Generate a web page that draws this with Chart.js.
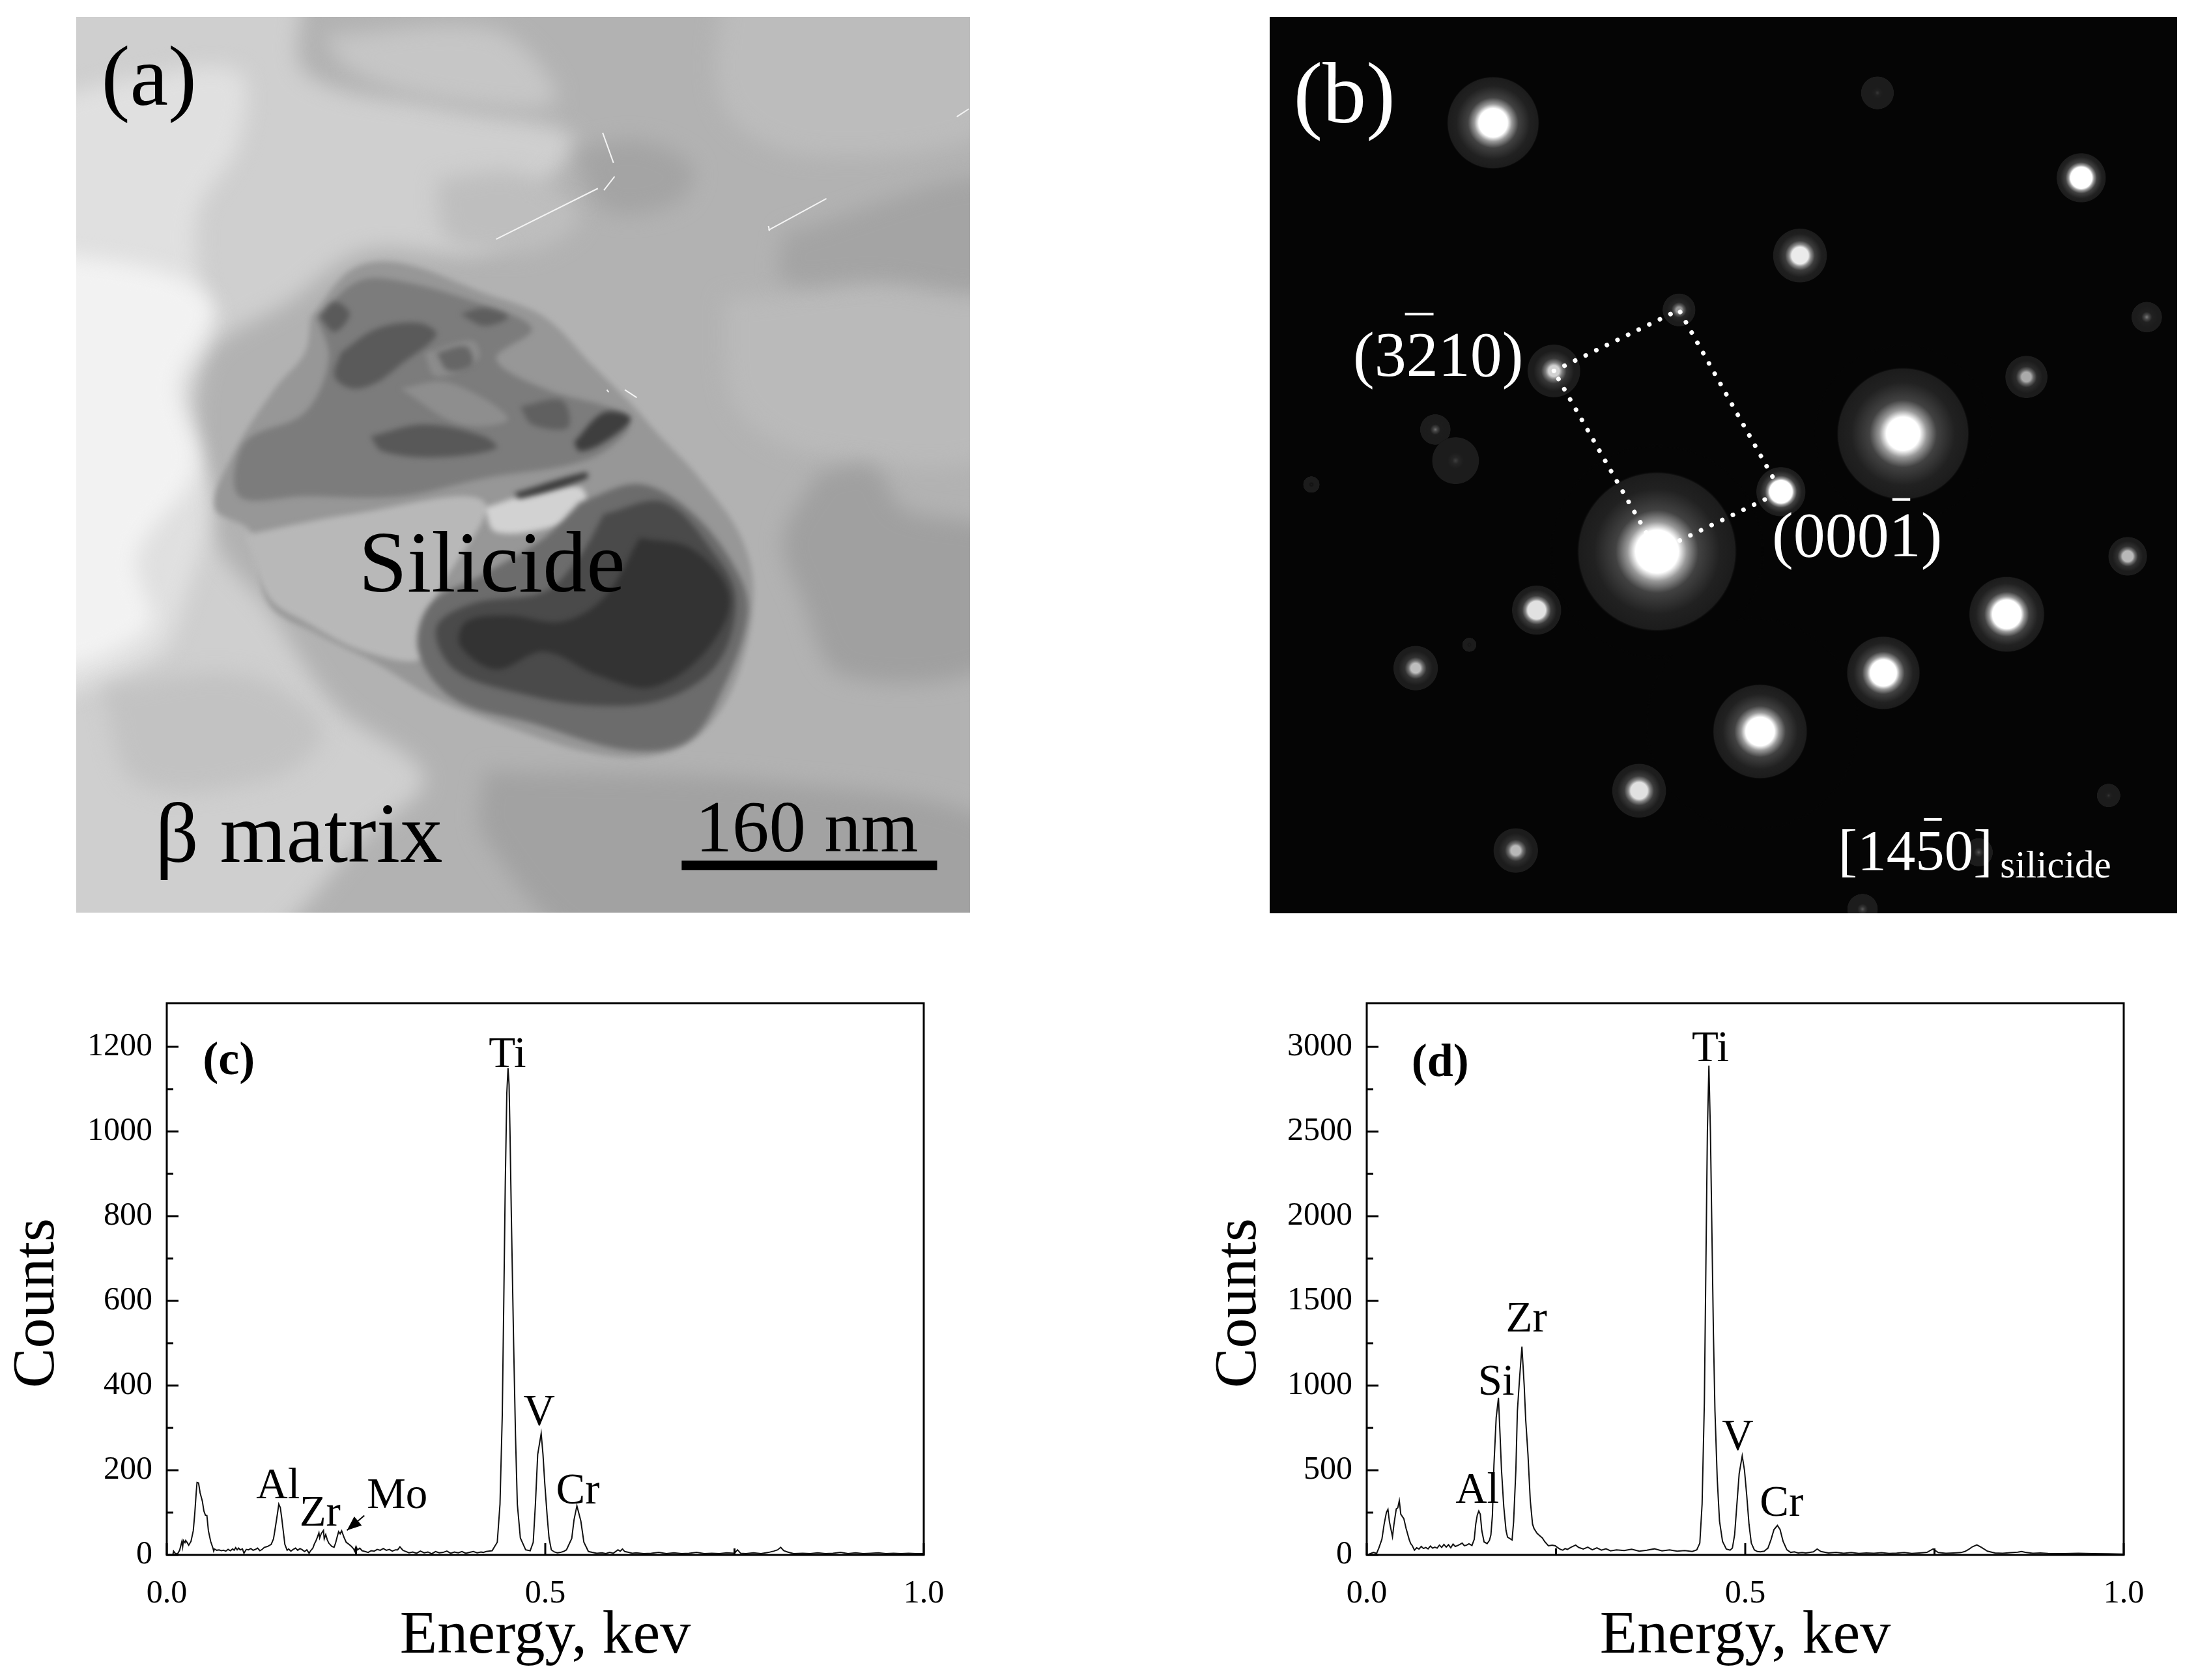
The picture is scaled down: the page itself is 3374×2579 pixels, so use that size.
<!DOCTYPE html>
<html>
<head>
<meta charset="utf-8">
<title>Silicide TEM and EDS</title>
<script src="https://cdn.jsdelivr.net/npm/chart.js@4/dist/chart.umd.min.js"></script>
<style>
  html, body { margin: 0; background: #fff; overflow: hidden; }
  canvas { position: absolute; display: block; }
  #panelA { left: 117px; top: 26px; background: #b2b2b2; }
  #panelB { left: 1949px; top: 26px; background: #050505; }
  #panelC { left: 0; top: 1450px; }
  #panelD { left: 1800px; top: 1450px; }
</style>
</head>
<body>
<canvas id="panelA" width="1372" height="1375"></canvas>
<canvas id="panelB" width="1393" height="1376"></canvas>
<canvas id="panelC" width="1640" height="1129"></canvas>
<canvas id="panelD" width="1574" height="1129"></canvas>
<script>
// spectrum (c)
const energyC = [
  0, .008, .009, .011, .014, .017, .020, .021, .022, .024,
  .025, .027, .029, .032, .035, .037, .039, .040, .042, .044,
  .047, .049, .051, .053, .055, .058, .061, .062, .063, .066,
  .069, .072, .075, .078, .081, .084, .087, .089, .091, .093,
  .095, .097, .100, .102, .105, .108, .111, .114, .117, .120,
  .123, .126, .129, .133, .138, .141, .143, .146, .148, .150,
  .152, .154, .156, .159, .161, .164, .167, .170, .173, .176,
  .179, .182, .185, .188, .190, .193, .195, .197, .199, .201,
  .202, .204, .207, .208, .210, .212, .214, .218, .221, .223,
  .225, .227, .229, .231, .234, .237, .240, .244, .247, .248,
  .250, .252, .255, .258, .262, .266, .270, .274, .278, .282,
  .286, .290, .294, .298, .302, .305, .308, .312, .316, .320,
  .325, .330, .335, .340, .345, .350, .355, .360, .365, .370,
  .375, .380, .385, .390, .395, .400, .405, .410, .415, .418,
  .422, .4298, .4366, .4402, .4432, .4452, .4472, .4492, .4508, .4522,
  .4534, .4552, .4582, .4607, .4631, .4671, .4741, .4801, .4841, .4870,
  .4900, .4946, .4970, .4993, .5026, .505, .508, .512, .516, .52,
  .524, .528, .535, .538, .5418, .547, .551, .557, .562, .568,
  .575, .580, .585, .590, .596, .599, .602, .605, .610, .615,
  .62, .63, .64, .65, .66, .67, .68, .69, .70, .71,
  .72, .73, .74, .75, .754, .758, .765, .775, .785, .795,
  .802, .807, .811, .815, .820, .828, .84, .85, .86, .87,
  .88, .89, .90, .91, .92, .93, .94, .95, .96, .97,
  .98, .99, 1.0
];
const countsC = [
  0, 0, 9, 4, 2, 11, 32, 19, 34, 29,
  34, 29, 23, 32, 57, 98, 150, 171, 170, 147,
  127, 104, 94, 93, 57, 32, 16, 9, 14, 11,
  12, 10, 11, 9, 13, 10, 14, 11, 17, 12,
  16, 12, 14, 4, 13, 12, 15, 11, 13, 16,
  10, 13, 18, 20, 25, 38, 60, 95, 120, 112,
  85, 55, 25, 11, 14, 9, 13, 16, 11, 15,
  12, 8, 12, 4, 10, 16, 26, 33, 42, 52,
  40, 50, 58, 38, 48, 36, 28, 20, 18, 28,
  42, 55, 50, 57, 42, 30, 26, 20, 14, 9,
  20, 12, 16, 10, 8, 6, 10, 9, 13, 11,
  15, 11, 13, 9, 12, 12, 19, 11, 8, 5,
  7, 4, 9, 5, 7, 3, 8, 5, 6, 9,
  4, 7, 5, 8, 4, 6, 8, 5, 7, 6,
  8, 10, 30, 120, 330, 600, 880, 1090, 1150, 1110,
  1000, 800, 500, 280, 120, 40, 12, 10, 30, 120,
  237, 287, 237, 170, 90, 40, 12, 7, 5, 6,
  8, 12, 39, 83, 116, 80, 30, 8, 6, 4,
  5, 3, 6, 4, 12, 9, 14, 8, 6, 4,
  5, 3, 4, 6, 3, 5, 3, 4, 6, 3,
  4, 3, 5, 4, 12, 4, 3, 5, 3, 6,
  9, 12, 18, 10, 7, 3, 4, 3, 5, 3,
  4, 6, 3, 5, 3, 4, 5, 3, 4, 3,
  4, 3, 3
];

// spectrum (d)
const energyD = [
  0, .009, .013, .016, .020, .023, .026, .028, .030, .034,
  .036, .039, .041, .043, .045, .049, .052, .056, .058, .060,
  .063, .066, .069, .072, .075, .078, .081, .084, .087, .090,
  .093, .096, .099, .102, .105, .108, .111, .114, .117, .120,
  .123, .126, .129, .132, .135, .139, .142, .144, .146, .148,
  .150, .152, .155, .159, .162, .164, .166, .168, .171, .174,
  .176, .178, .181, .184, .186, .192, .194, .197, .199, .202,
  .205, .208, .210, .213, .216, .219, .221, .225, .229, .232,
  .235, .240, .245, .249, .252, .256, .259, .262, .265, .270,
  .276, .280, .286, .292, .298, .304, .310, .316, .322, .330,
  .34, .35, .36, .37, .38, .39, .40, .41, .42, .43,
  .436, .440, .443, .446, .448, .450, .452, .454, .456, .458,
  .460, .463, .466, .470, .475, .480, .483, .486, .489, .492,
  .496, .499, .502, .505, .508, .512, .516, .520, .525, .530,
  .534, .538, .5425, .546, .550, .555, .560, .565, .570, .575,
  .58, .59, .595, .60, .61, .62, .63, .64, .65, .66,
  .67, .68, .69, .70, .71, .72, .73, .74, .748, .755,
  .765, .775, .785, .79, .795, .80, .806, .812, .82, .83,
  .84, .85, .86, .865, .87, .88, .89, .90, .92, .94,
  .96, .98, 1.0
];
const countsD = [
  0, 15, 9, 41, 92, 182, 252, 269, 195, 108,
  182, 272, 278, 320, 240, 214, 156, 92, 67, 56,
  28, 42, 35, 50, 38, 44, 36, 52, 40, 46,
  40, 58, 44, 62, 46, 60, 42, 64, 50, 55,
  62, 70, 54, 58, 66, 56, 92, 182, 235, 259,
  240, 143, 77, 67, 85, 118, 233, 528, 810, 928,
  720, 502, 285, 144, 105, 88, 195, 502, 850, 1050,
  1230, 1000, 797, 592, 323, 182, 156, 128, 112, 100,
  79, 54, 58, 54, 44, 32, 28, 38, 32, 46,
  58, 44, 35, 46, 30, 42, 28, 36, 24, 30,
  26, 34, 22, 28, 36, 24, 30, 22, 26, 20,
  30, 70, 300, 900, 1700, 2500, 2890, 2500, 1900, 1300,
  850, 450, 200, 80, 35, 28, 40, 120, 300, 480,
  585, 500, 350, 180, 70, 30, 20, 18, 22, 40,
  90, 150, 174, 150, 80, 30, 15, 18, 12, 14,
  12, 18, 35, 20, 12, 15, 10, 14, 9, 12,
  10, 13, 9, 11, 14, 9, 12, 15, 35, 14,
  10, 12, 14, 20, 32, 48, 59, 45, 22, 12,
  10, 13, 16, 20, 15, 10, 12, 9, 8, 10,
  8, 7, 5
];

// axes
const energyTicks = [0, 0.5, 1];
const energyMinor = [0.25, 0.75];
const countTicksC = [0, 200, 400, 600, 800, 1000, 1200];
const countMinorC = [100, 300, 500, 700, 900, 1100];
const countTicksD = [0, 500, 1000, 1500, 2000, 2500, 3000];
const countMinorD = [250, 750, 1250, 1750, 2250, 2750];

// peak labels: text, energy, counts at the baseline
const peaksC = [["Ti", .450, 1153], ["V", .492, 307], ["Cr", .543, 122], ["Al", .147, 134], ["Zr", .2025, 69], ["Mo", .3044, 110]];
const peaksD = [["Ti", .454, 2915], ["V", .49, 625], ["Cr", .548, 229], ["Al", .146, 306], ["Si", .171, 948], ["Zr", .211, 1318]];
const moArrowE = [.261, .238];
const moArrowC = [93, 58];

// micrograph (a), outlines in image units
const shapePale = [[-40, -40], [380, -40], [400, 120], [640, 180], [850, 230], [780, 330], [700, 420], [500, 420], [380, 500], [230, 610], [250, 900], [340, 1020], [450, 1180], [600, 1300], [500, 1400], [300, 1590], [-40, 1590], [-40, -40]];
const shapeLight = [[-40, 170], [120, 130], [290, 120], [290, 240], [220, 360], [230, 560], [190, 680], [240, 830], [200, 1000], [150, 1100], [-40, 1140], [-40, 170]];
const shapeBright = [[-40, 420], [180, 460], [250, 520], [190, 640], [220, 780], [120, 930], [140, 1050], [-40, 1100], [-40, 420]];
const shapeCornerTR = [[1100, -40], [1570, -40], [1570, 200], [1250, 260], [1100, 180], [1100, -40]];
const shapeMidRight = [[1100, 500], [1570, 480], [1570, 750], [1250, 760], [1120, 680], [1100, 500]];
const shapeTopPatch = [[850, 250], [960, 235], [1050, 280], [1020, 340], [900, 350], [850, 250]];
const shapeRightTop = [[1200, 390], [1570, 300], [1570, 480], [1350, 470], [1200, 470], [1200, 390]];
const shapeRightLow = [[1260, 790], [1350, 780], [1400, 850], [1570, 900], [1570, 1100], [1300, 1130], [1230, 1000], [1200, 900], [1260, 790]];
const shapeBottom = [[700, 1290], [1200, 1310], [1570, 1390], [1570, 1590], [900, 1590], [700, 1400], [700, 1290]];
const shapeFleckA = [[60, 1150], [300, 1130], [430, 1220], [350, 1300], [120, 1310], [60, 1150]];
const shapeFleckB = [[430, 60], [720, 50], [820, 170], [640, 170], [480, 120], [430, 60]];
const shapeFleckC = [[620, 300], [760, 290], [860, 360], [780, 420], [640, 400], [620, 300]];
const shapeGrain = [[410, 530], [480, 450], [560, 440], [700, 490], [800, 530], [880, 610], [950, 680], [985, 720], [1060, 800], [1130, 900], [1150, 1000], [1120, 1140], [1060, 1230], [980, 1265], [880, 1260], [750, 1220], [620, 1170], [520, 1110], [420, 1060], [340, 1010], [310, 890], [250, 850], [280, 760], [350, 650], [400, 590], [410, 530]];
const shapeWedge = [[300, 895], [480, 860], [700, 840], [620, 1000], [600, 1100], [500, 1090], [400, 1040], [340, 1000], [300, 895]];
const shapeBand = [[700, 850], [780, 825], [860, 815], [870, 850], [820, 880], [720, 890], [700, 850]];
const shapeLowerMid = [[860, 840], [960, 810], [1050, 860], [1125, 960], [1140, 1030], [1100, 1150], [1040, 1240], [940, 1255], [780, 1210], [650, 1170], [590, 1090], [610, 1010], [700, 960], [800, 900], [860, 840]];
const shapeLowerDark = [[900, 860], [1000, 840], [1080, 920], [1120, 1000], [1090, 1110], [1000, 1170], [880, 1180], [760, 1160], [650, 1120], [620, 1050], [680, 1010], [800, 990], [860, 930], [900, 860]];
const shapeLowerCore = [[960, 900], [1050, 920], [1110, 1000], [1070, 1090], [980, 1150], [890, 1130], [800, 1090], [720, 1120], [660, 1080], [670, 1040], [740, 1030], [830, 1040], [900, 1000], [960, 900]];
const shapeUpperMid = [[420, 530], [490, 470], [560, 470], [700, 510], [780, 550], [720, 600], [800, 650], [930, 690], [940, 720], [870, 770], [700, 800], [560, 830], [400, 830], [290, 830], [300, 740], [400, 690], [440, 600], [420, 530]];
const shapeHoleA = [[600, 590], [680, 570], [690, 600], [620, 630], [600, 590]];
const shapeHoleB = [[560, 650], [640, 640], [740, 700], [660, 710], [560, 650]];
const shapeSpotA = [[425, 530], [450, 505], [475, 525], [450, 555], [425, 530]];
const shapeSpotB = [[460, 590], [520, 550], [590, 540], [620, 560], [560, 610], [520, 640], [480, 650], [450, 630], [460, 590]];
const shapeSpotC = [[620, 590], [670, 580], [680, 610], [640, 620], [620, 590]];
const shapeSpotD = [[660, 525], [700, 515], [740, 530], [700, 545], [660, 525]];
const shapeSpotE = [[510, 730], [600, 710], [700, 730], [720, 750], [620, 765], [530, 755], [510, 730]];
const shapeSpotF = [[760, 680], [830, 670], [840, 715], [780, 710], [760, 680]];
const shapeSpotG = [[850, 740], [900, 690], [945, 700], [900, 740], [860, 755], [850, 740]];
const shapeSliver = [[750, 825], [870, 790], [872, 800], [760, 834], [750, 825]];

const patches = [
  [shapePale, "#cfcfcf"], [shapeLight, "#e0e0e0"], [shapeBright, "#f2f2f2"],
  [shapeCornerTR, "#bcbcbc"], [shapeMidRight, "#bababa"], [shapeTopPatch, "#a4a4a4"],
  [shapeRightTop, "#a4a4a4"], [shapeRightLow, "#a0a0a0"], [shapeBottom, "#a2a2a2"],
  [shapeFleckA, "#c2c2c2"], [shapeFleckB, "#c6c6c6"], [shapeFleckC, "#bebebe"],
  [shapeGrain, "#979797"], [shapeWedge, "#b8b8b8"], [shapeBand, "#d2d2d2"],
  [shapeLowerMid, "#6c6c6c"], [shapeLowerDark, "#4a4a4a"], [shapeLowerCore, "#333333"],
  [shapeUpperMid, "#7c7c7c"], [shapeHoleA, "#8c8c8c"], [shapeHoleB, "#8e8e8e"],
  [shapeSpotA, "#5a5a5a"], [shapeSpotB, "#5a5a5a"], [shapeSpotC, "#666666"], [shapeSpotD, "#5e5e5e"],
  [shapeSpotE, "#585858"], [shapeSpotF, "#606060"], [shapeSpotG, "#3e3e3e"], [shapeSliver, "#3a3a3a"]
];
const softPatches = 12; // the background ones get a wider blur
const scratches = [
  [720, 400, 890, 315], [898, 222, 916, 272], [900, 318, 918, 295], [1175, 385, 1272, 332],
  [1175, 378, 1177, 386], [1490, 195, 1510, 182], [935, 652, 955, 665], [905, 652, 908, 656]
];

// diffraction pattern (b), image units; the first three are the faint haze
const spotX = [660, 1073, 820, 385, 1372, 900, 697, 487, 1482, 1280, 288, 322, 1073, 868, 660, 1450, 458, 1247, 255, 1040, 833, 630, 423, 1418, 1030, 1005, 1200, 345, 80];
const spotY = [922, 725, 1210, 205, 297, 427, 518, 620, 530, 630, 718, 770, 725, 822, 922, 930, 1020, 1027, 1117, 1125, 1223, 1322, 1422, 1330, 155, 1520, 1425, 1078, 810];
const spotHalo = [180, 150, 180, 78, 42, 46, 28, 45, 26, 36, 26, 40, 112, 42, 135, 33, 42, 64, 38, 62, 80, 46, 38, 20, 28, 26, 24, 12, 14];
const spotCore = [0, 0, 0, 24, 18, 14, 5, 9, 0, 8, 0, 0, 28, 19, 36, 9, 15, 24, 8, 22, 24, 14, 8, 0, 0, 0, 0, 0, 0];
const spotPeak = [18, 16, 14, 255, 255, 235, 150, 210, 125, 170, 110, 62, 255, 255, 255, 185, 225, 255, 190, 255, 255, 225, 185, 55, 55, 90, 90, 35, 30];

const cellX = [487, 697, 868, 660, 487];
const cellY = [620, 518, 822, 922, 620];

const SERIF = "'Liberation Serif', 'Times New Roman', serif";
Chart.defaults.font.family = SERIF;
Chart.defaults.color = "#000";
Chart.defaults.animation = false;
Chart.defaults.responsive = false;
Chart.defaults.devicePixelRatio = 1;

function putText(ctx, text, x, y, size, color, align, bold) {
  ctx.save();
  ctx.font = (bold ? "bold " : "") + size + "px " + SERIF;
  ctx.fillStyle = color;
  ctx.textAlign = align || "left";
  ctx.textBaseline = "alphabetic";
  ctx.fillText(text, x, y);
  ctx.restore();
}

function spectrum(id, energy, counts, yMax, yTicks, yMinor, peaks, tag, tagE, tagC, yWidth, yTitleX, padRight, arrow) {
  const frame = {
    id: "frame",
    afterDraw(chart) {
      const { ctx, chartArea: a, scales: { x, y } } = chart;
      ctx.save();
      ctx.strokeStyle = "#000";
      ctx.lineWidth = 3;
      ctx.strokeRect(a.left, a.top, a.right - a.left, a.bottom - a.top);
      const tick = (x1, y1, x2, y2) => {
        ctx.beginPath();
        ctx.moveTo(x1, y1);
        ctx.lineTo(x2, y2);
        ctx.stroke();
      };
      yTicks.forEach(v => tick(a.left, y.getPixelForValue(v), a.left + 18, y.getPixelForValue(v)));
      yMinor.forEach(v => tick(a.left, y.getPixelForValue(v), a.left + 10, y.getPixelForValue(v)));
      energyTicks.forEach(v => tick(x.getPixelForValue(v), a.bottom, x.getPixelForValue(v), a.bottom - 18));
      energyMinor.forEach(v => tick(x.getPixelForValue(v), a.bottom, x.getPixelForValue(v), a.bottom - 10));
      peaks.forEach(p => putText(ctx, p[0], x.getPixelForValue(p[1]), y.getPixelForValue(p[2]), 67, "#000", "center"));
      putText(ctx, tag, x.getPixelForValue(tagE), y.getPixelForValue(tagC), 72, "#000", "center", true);
      // the axis title sits below the middle of the axis, so it is not the scale's own title
      ctx.save();
      ctx.translate(yTitleX, (a.top + a.bottom) / 2 + 37);
      ctx.rotate(-Math.PI / 2);
      putText(ctx, "Counts", 0, 0, 92, "#000", "center");
      ctx.restore();
      if (arrow) {
        const x0 = x.getPixelForValue(arrow[0][0]), y0 = y.getPixelForValue(arrow[1][0]);
        const x1 = x.getPixelForValue(arrow[0][1]), y1 = y.getPixelForValue(arrow[1][1]);
        const t = Math.atan2(y1 - y0, x1 - x0);
        ctx.lineWidth = 2;
        tick(x0, y0, x1, y1);
        ctx.fillStyle = "#000";
        ctx.beginPath();
        ctx.moveTo(x1, y1);
        ctx.lineTo(x1 - 24 * Math.cos(t - 0.38), y1 - 24 * Math.sin(t - 0.38));
        ctx.lineTo(x1 - 24 * Math.cos(t + 0.38), y1 - 24 * Math.sin(t + 0.38));
        ctx.fill();
      }
      ctx.restore();
    }
  };

  return new Chart(document.getElementById(id), {
    type: "line",
    data: {
      datasets: [{
        data: energy.map((e, i) => ({ x: e, y: counts[i] })),
        borderColor: "#111",
        borderWidth: 2,
        pointRadius: 0,
        tension: 0
      }]
    },
    options: {
      layout: { padding: { left: 0, top: 90, right: padRight, bottom: 0 } },
      plugins: { legend: { display: false }, tooltip: { enabled: false } },
      events: [],
      scales: {
        x: {
          type: "linear", min: 0, max: 1,
          afterBuildTicks: s => { s.ticks = energyTicks.map(v => ({ value: v })); },
          afterFit: s => { s.height = 192; },
          grid: { display: false, drawTicks: false },
          border: { display: false },
          ticks: { font: { size: 50 }, padding: 30, maxRotation: 0, callback: v => v.toFixed(1) },
          title: { display: true, text: "Energy, kev", font: { size: 94, lineHeight: 1 }, padding: 20 }
        },
        y: {
          min: 0, max: yMax,
          afterBuildTicks: s => { s.ticks = yTicks.map(v => ({ value: v })); },
          afterFit: s => { s.width = yWidth; },
          grid: { display: false, drawTicks: false },
          border: { display: false },
          ticks: { font: { size: 50 }, padding: 22, callback: v => String(v) }
        }
      }
    },
    plugins: [frame]
  });
}

function plainScale(min, max, reverse) {
  return { type: "linear", min, max, reverse: !!reverse, display: false };
}

function micrograph() {
  const layer = {
    id: "layer",
    beforeDatasetsDraw(chart) { chart.ctx.save(); chart.ctx.filter = "blur(16px)"; },
    afterDatasetDraw(chart, args) {
      // filler paints at the next dataset's beforeDatasetDraw, so switch here
      if (args.index === softPatches - 1) chart.ctx.filter = "blur(4px)";
    },
    afterDatasetsDraw(chart) {
      const { ctx, scales: { x, y } } = chart;
      ctx.restore();
      ctx.save();
      ctx.strokeStyle = "#f4f4f4";
      ctx.lineWidth = 2;
      scratches.forEach(s => {
        ctx.beginPath();
        ctx.moveTo(x.getPixelForValue(s[0]), y.getPixelForValue(s[1]));
        ctx.lineTo(x.getPixelForValue(s[2]), y.getPixelForValue(s[3]));
        ctx.stroke();
      });
      ctx.restore();
      putText(ctx, "(a)", x.getPixelForValue(60), y.getPixelForValue(175), 132, "#000");
      putText(ctx, "Silicide", x.getPixelForValue(490), y.getPixelForValue(990), 134, "#000");
      putText(ctx, "β matrix", x.getPixelForValue(150), y.getPixelForValue(1442), 131, "#000");
      putText(ctx, "160 nm", x.getPixelForValue(1053), y.getPixelForValue(1424), 113, "#000");
      ctx.fillStyle = "#000";
      const bx = x.getPixelForValue(1030), by = y.getPixelForValue(1440);
      ctx.fillRect(bx, by, x.getPixelForValue(1457) - bx, y.getPixelForValue(1456) - by);
    }
  };
  new Chart(document.getElementById("panelA"), {
    type: "line",
    data: {
      datasets: patches.map((p, i) => ({
        data: p[0].map(pt => ({ x: pt[0], y: pt[1] })),
        backgroundColor: p[1],
        borderWidth: 0,
        pointRadius: 0,
        tension: 0.35,
        fill: "shape",
        order: patches.length - i
      }))
    },
    options: {
      plugins: { legend: { display: false }, tooltip: { enabled: false } },
      events: [],
      scales: { x: plainScale(18, 1512), y: plainScale(28, 1527, true) }
    },
    plugins: [layer]
  });
}

function grey(v) {
  const g = Math.round(v);
  return "rgb(" + g + "," + g + "," + g + ")";
}

function diffraction() {
  const spotFill = c => {
    const i = c.dataIndex;
    const { ctx, chartArea, scales: { x, y } } = c.chart;
    if (spotX[i] === undefined || !chartArea) return "#222";
    const px = x.getPixelForValue(spotX[i]), py = y.getPixelForValue(spotY[i]);
    const r = Math.abs(x.getPixelForValue(spotHalo[i]) - x.getPixelForValue(0));
    if (!isFinite(px) || !isFinite(py) || !isFinite(r)) return "#222";
    const g = ctx.createRadialGradient(px, py, 0, px, py, r);
    const core = spotCore[i] / spotHalo[i];
    const rest = 1 - core;
    const peak = spotPeak[i];
    const floor = peak < 30 ? 5 : 28;
    g.addColorStop(0, grey(peak));
    g.addColorStop(core, grey(peak));
    g.addColorStop(core + rest * 0.14, grey(peak * 0.6));
    g.addColorStop(core + rest * 0.34, grey(Math.max(floor, peak * 0.26)));
    g.addColorStop(core + rest * 0.7, grey(Math.max(floor, peak * 0.13)));
    g.addColorStop(0.97, grey(floor));
    g.addColorStop(1, "rgba(5,5,5,0)");
    return g;
  };
  const labels = {
    id: "labels",
    afterDraw(chart) {
      const { ctx, scales: { x, y } } = chart;
      const w = "#fff";
      putText(ctx, "(b)", x.getPixelForValue(50), y.getPixelForValue(205), 134, w);
      putText(ctx, "(3210)", x.getPixelForValue(150), y.getPixelForValue(628), 98, w);
      putText(ctx, "(0001)", x.getPixelForValue(853), y.getPixelForValue(930), 98, w);
      putText(ctx, "[1450]", x.getPixelForValue(964), y.getPixelForValue(1454), 89, w);
      putText(ctx, "silicide", x.getPixelForValue(1236), y.getPixelForValue(1467), 59, w);
      ctx.fillStyle = w;
      [[237, 285, 525], [1055, 1085, 835], [1108, 1138, 1370]].forEach(b => {
        const left = x.getPixelForValue(b[0]);
        ctx.fillRect(left, y.getPixelForValue(b[2]) - 2, x.getPixelForValue(b[1]) - left, 4);
      });
    }
  };
  new Chart(document.getElementById("panelB"), {
    type: "bubble",
    data: {
      datasets: [
        {
          type: "line",
          data: cellX.map((v, i) => ({ x: v, y: cellY[i] })),
          borderColor: "#fff",
          borderWidth: 7,
          borderDash: [0.1, 18],
          borderCapStyle: "round",
          pointRadius: 0,
          tension: 0,
          order: 0
        },
        {
          data: spotX.map((v, i) => ({ x: v, y: spotY[i], r: spotHalo[i] / 1.089 })),
          backgroundColor: spotFill,
          borderWidth: 0,
          order: 1
        }
      ]
    },
    options: {
      layout: { autoPadding: false },
      plugins: { legend: { display: false }, tooltip: { enabled: false } },
      events: [],
      scales: { x: plainScale(10, 1533), y: plainScale(28, 1527, true) }
    },
    plugins: [labels]
  });
}

micrograph();
diffraction();
spectrum("panelC", energyC, countsC, 1303, countTicksC, countMinorC, peaksC, "(c)", .082, 1136, 256, 82, 222, [moArrowE, moArrowC]);
spectrum("panelD", energyD, countsD, 3258, countTicksD, countMinorD, peaksD, "(d)", .097, 2829, 298, 127, 114, null);
</script>
</body>
</html>
